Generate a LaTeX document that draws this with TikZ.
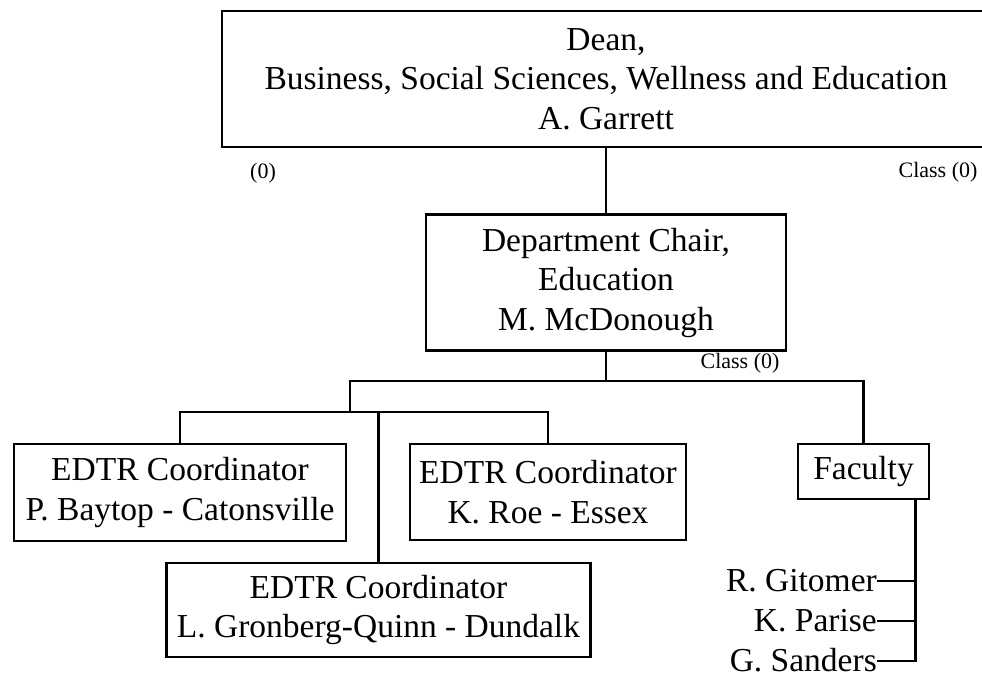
\documentclass[tikz,border=0pt]{standalone}
\usepackage{fontspec}
\setmainfont{Liberation Serif}
\usetikzlibrary{positioning,calc}

\begin{document}
\begin{tikzpicture}[
    x=1pt, y=1pt,
    box/.style={draw, line width=2.5pt, align=center, inner sep=0pt, font=\fontsize{33.5}{39.5}\selectfont},
    note/.style={inner sep=0pt, font=\fontsize{22}{26}\selectfont},
    staff/.style={anchor=east, inner sep=0pt, text height=21pt, text depth=0pt, font=\fontsize{33.5}{40}\selectfont},
    link/.style={line width=2.5pt}
  ]
    \useasboundingbox (0,0) rectangle (982,-678);
    \clip (0,0) rectangle (982,-678);

    \node[box, minimum width=768pt, minimum height=136pt] (dean) at (606,-79) {Dean,\\Business, Social Sciences, Wellness and Education\\A. Garrett};
    \node[box, minimum width=360pt, minimum height=136pt, below=65pt of dean] (chair) {Department Chair,\\Education\\M. McDonough};

    \node[note] (deanleft) at (263,-173) {(0)};
    \node[note] (deanright) at (938,-172) {Class (0)};
    \node[note] (chairnote) at (740,-363) {Class (0)};

    % coordinators
    \node[box, minimum width=332pt, minimum height=97pt] (baytop) at (180,-492.5) {EDTR Coordinator\\P. Baytop - Catonsville};
    \node[box, minimum width=276pt, minimum height=96pt] (roe) at (548,-492) {EDTR Coordinator\\K. Roe - Essex};
    \node[box, minimum width=424pt, minimum height=94pt] (gronberg) at (378.5,-610) {EDTR Coordinator\\L. Gronberg-Quinn - Dundalk};
    \node[box, minimum width=131pt, minimum height=55pt] (faculty) at (863.5,-471.5) {Faculty};

    % faculty members
    \node[staff] (gitomer) at (877,-581) {R. Gitomer};
    \node[staff] (parise) at (877,-621) {K. Parise};
    \node[staff] (sanders) at (877,-661) {G. Sanders};

    \coordinate (split) at (350,-381);
    \coordinate (subbus) at (350,-412);
    \coordinate (facline) at ($(faculty.south east)+(-15,0)$);

    \draw[link] (dean) -- (chair);
    \draw[link] (chair.south) -- (chair.south |- split);
    \draw[link] (faculty.north) |- (split) -- (subbus);
    \draw[link] (baytop.north) |- (subbus) -| (roe.north);
    \draw[link] (gronberg.north) -- (gronberg.north |- subbus);

    \draw[link] (facline) |- (sanders.east);
    \draw[link] (gitomer.east) -- (gitomer.east -| facline);
    \draw[link] (parise.east) -- (parise.east -| facline);
  \end{tikzpicture}
\end{document}
